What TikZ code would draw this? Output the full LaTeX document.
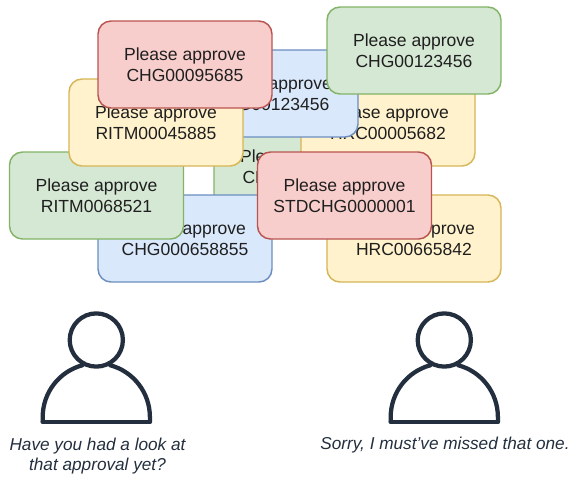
\documentclass[tikz,border=0pt]{standalone}
\usepackage{fontspec}
\setmainfont{Liberation Sans}
\definecolor{gf}{HTML}{D5E8D4}\definecolor{gd}{HTML}{82B366}
\definecolor{yf}{HTML}{FFF2CC}\definecolor{yd}{HTML}{D6B656}
\definecolor{bf}{HTML}{DAE8FC}\definecolor{bd}{HTML}{6C8EBF}
\definecolor{rf}{HTML}{F8CECC}\definecolor{rd}{HTML}{B85450}
\definecolor{ink}{HTML}{232F3E}
\tikzset{
  card/.style={rectangle,rounded corners=9.75pt,minimum width=130.5pt,minimum height=65.25pt,
    line width=1.1pt,outer sep=0pt,inner sep=0pt,align=center,text=black!88,
    font=\fontsize{13.15pt}{15.5pt}\selectfont,
    execute at begin node={\rule{0pt}{11.5pt}}},
  gcard/.style={card,fill=gf,draw=gd},
  ycard/.style={card,fill=yf,draw=yd},
  bcard/.style={card,fill=bf,draw=bd},
  rcard/.style={card,fill=rf,draw=rd},
  say/.style={align=center,text=ink,inner sep=0pt,font=\fontsize{12.9pt}{15.5pt}\selectfont\itshape},
  person/.style={draw=ink,line width=3.2pt,line join=round,line cap=round}
}
\begin{document}
\begin{tikzpicture}[x=0.75pt,y=-0.75pt]
\useasboundingbox (0,0) rectangle (576,480);
\node[gcard] (gmid) at (301,166.5) {Please approve\\CHG00045685};
\node[ycard] (yhrc) at (388,122.5) {Please approve\\HRC00005682};
\node[bcard] (btop) at (271,93.5) {Please approve\\CHG00123456};
\node[bcard] (bbot) at (185,238.5) {Please approve\\CHG000658855};
\node[gcard] (gleft) at (96.5,195.5) {Please approve\\RITM0068521};
\node[ycard] (yleft) at (156,122.5) {Please approve\\RITM00045885};
\node[rcard] (rtop) at (185,64.5) {Please approve\\CHG00095685};
\node[gcard] (gtop) at (414,50.5) {Please approve\\CHG00123456};
\node[ycard] (ybot) at (414,238.5) {Please approve\\HRC00665842};
\node[rcard] (rstd) at (344.5,195.5) {Please approve\\STDCHG0000001};
\foreach \n/\cx in {pa/96.3,pb/444.3}{
  \begin{scope}[shift={(\cx,0)}]
    \draw[person] (-53.6,421.7) -- (-53.6,417) arc[start angle=180,end angle=105,x radius=53.6,y radius=-53.6];
    \draw[person] (53.6,421.7) -- (53.6,417) arc[start angle=0,end angle=75,x radius=53.6,y radius=-53.6];
    \draw[person] (-53.6,421.7) -- (53.6,421.7);
    \draw[person] (0,340) circle[radius=26.6];
  \end{scope}
}
\node[say] (sa) at (97.5,456) {Have you had a look at\\that approval yet?};
\node[say] (sb) at (445,445.5) {Sorry, I must've missed that one.};
\end{tikzpicture}
\end{document}
